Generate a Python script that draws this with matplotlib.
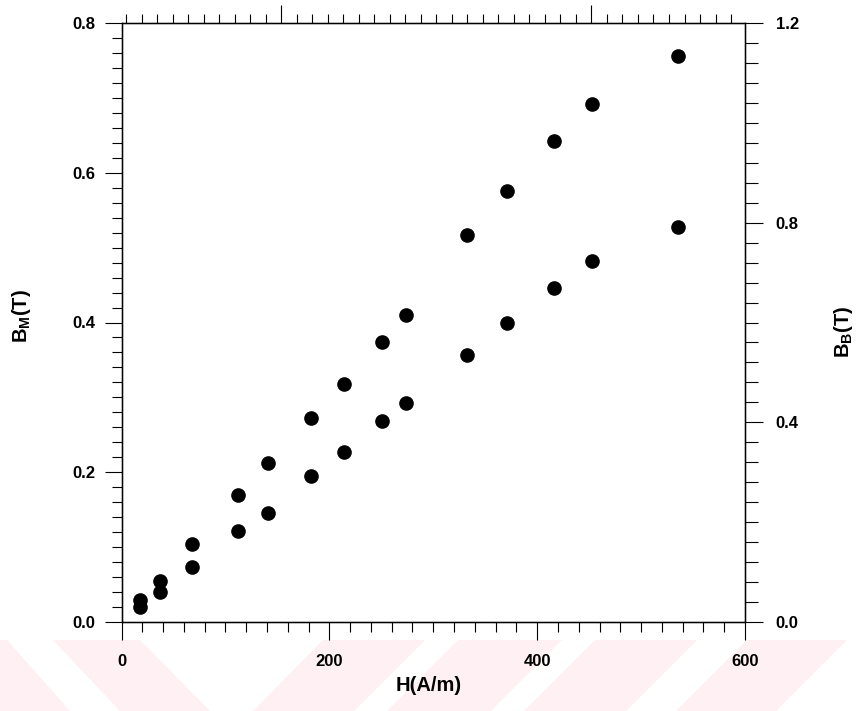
import matplotlib
matplotlib.use("Agg")
import matplotlib.pyplot as plt
from matplotlib.patches import Polygon
from matplotlib.ticker import MultipleLocator, FixedLocator

# Data
h = [18, 37, 68, 112, 141, 182, 214, 251, 274, 332, 371, 416, 453, 536]
# lower series, left axis B_M (T)
bm = [0.020, 0.040, 0.074, 0.121, 0.145, 0.195, 0.227, 0.268, 0.292,
      0.357, 0.400, 0.446, 0.482, 0.527]
# upper series, right axis B_B (T)
bb = [0.044, 0.083, 0.156, 0.254, 0.318, 0.408, 0.476, 0.561, 0.615,
      0.776, 0.864, 0.963, 1.037, 1.134]

plt.rcParams['font.family'] = ['Liberation Sans', 'DejaVu Sans']
plt.rcParams['font.weight'] = 'bold'
plt.rcParams['mathtext.fontset'] = 'custom'
plt.rcParams['mathtext.rm'] = 'Liberation Sans:bold'
plt.rcParams['mathtext.bf'] = 'Liberation Sans:bold'

W, H = 860, 711
fig = plt.figure(figsize=(W / 100, H / 100), dpi=100)

# faint pink watermark stripes along the bottom (pixel coords)
stripes = [
    [(0, 640), (7, 640), (70, 711), (0, 711)],
    [(53, 640), (140, 640), (210, 711), (120, 711)],
    [(323, 640), (425, 640), (354, 711), (253, 711)],
    [(458, 640), (562, 640), (491, 711), (387, 711)],
    [(595, 640), (697, 640), (626, 711), (524, 711)],
    [(747, 640), (847, 640), (776, 711), (676, 711)],
]
for pts in stripes:
    fig.add_artist(Polygon([(x / W, 1 - y / H) for x, y in pts],
                           closed=True, transform=fig.transFigure,
                           facecolor='#fef0f3', edgecolor='none', zorder=-5))

ax = fig.add_axes([121.5 / W, 1 - 622 / H, 623.5 / W, 599 / H])
ax.set_facecolor('none')

ax.plot(h, bm, 'o', color='black', markersize=9.5, zorder=3)
ax.set_xlim(0, 600)
ax.set_ylim(0, 0.8)
ax.xaxis.set_major_locator(MultipleLocator(200))
ax.xaxis.set_minor_locator(MultipleLocator(20))
ax.yaxis.set_major_locator(MultipleLocator(0.2))
ax.yaxis.set_minor_locator(MultipleLocator(0.02))
ax.xaxis.set_major_formatter(lambda v, p: f"{v:.0f}")
ax.yaxis.set_major_formatter(lambda v, p: f"{v:.1f}")
ax.tick_params(which='both', direction='out', top=False, right=False,
               width=0.8, labelsize=12)
ax.tick_params(axis='x', which='major', length=13, pad=10)
ax.tick_params(axis='y', which='major', length=12, pad=7)
ax.tick_params(which='minor', length=7)
for s in ax.spines.values():
    s.set_linewidth(0.9)

ax.set_xlabel('H(A/m)', fontsize=14.5, fontweight='bold')
ax.xaxis.set_label_coords(0.493, -0.09)
ax.set_ylabel(r'$\mathbf{B_M(T)}$', fontsize=14.5)
ax.yaxis.set_label_coords(-0.142, 0.51)

# right axis
axr = ax.twinx()
axr.plot(h, bb, 'o', color='black', markersize=9.5, zorder=3)
axr.set_ylim(0, 1.2)
axr.yaxis.set_major_locator(MultipleLocator(0.4))
axr.yaxis.set_minor_locator(MultipleLocator(0.04))
axr.yaxis.set_major_formatter(lambda v, p: f"{v:.1f}")
axr.tick_params(which='both', direction='out', width=0.8, labelsize=12)
axr.tick_params(which='major', length=13, pad=9)
axr.tick_params(which='minor', length=9)
axr.set_ylabel(r'$\mathbf{B_B(T)}$', fontsize=14.5)
axr.yaxis.set_label_coords(1.14, 0.485)
for s in axr.spines.values():
    s.set_linewidth(0.9)

# top axis ticks (unlabelled)
axt = ax.twiny()
axt.set_xlim(-0.3, 39.9)
axt.xaxis.set_major_locator(FixedLocator([10, 30]))
axt.xaxis.set_minor_locator(FixedLocator(list(range(0, 40))))
axt.tick_params(which='both', direction='out', width=0.8, labeltop=False)
axt.tick_params(which='major', length=13)
axt.tick_params(which='minor', length=6.5)

fig.savefig('out.png', dpi=100)
